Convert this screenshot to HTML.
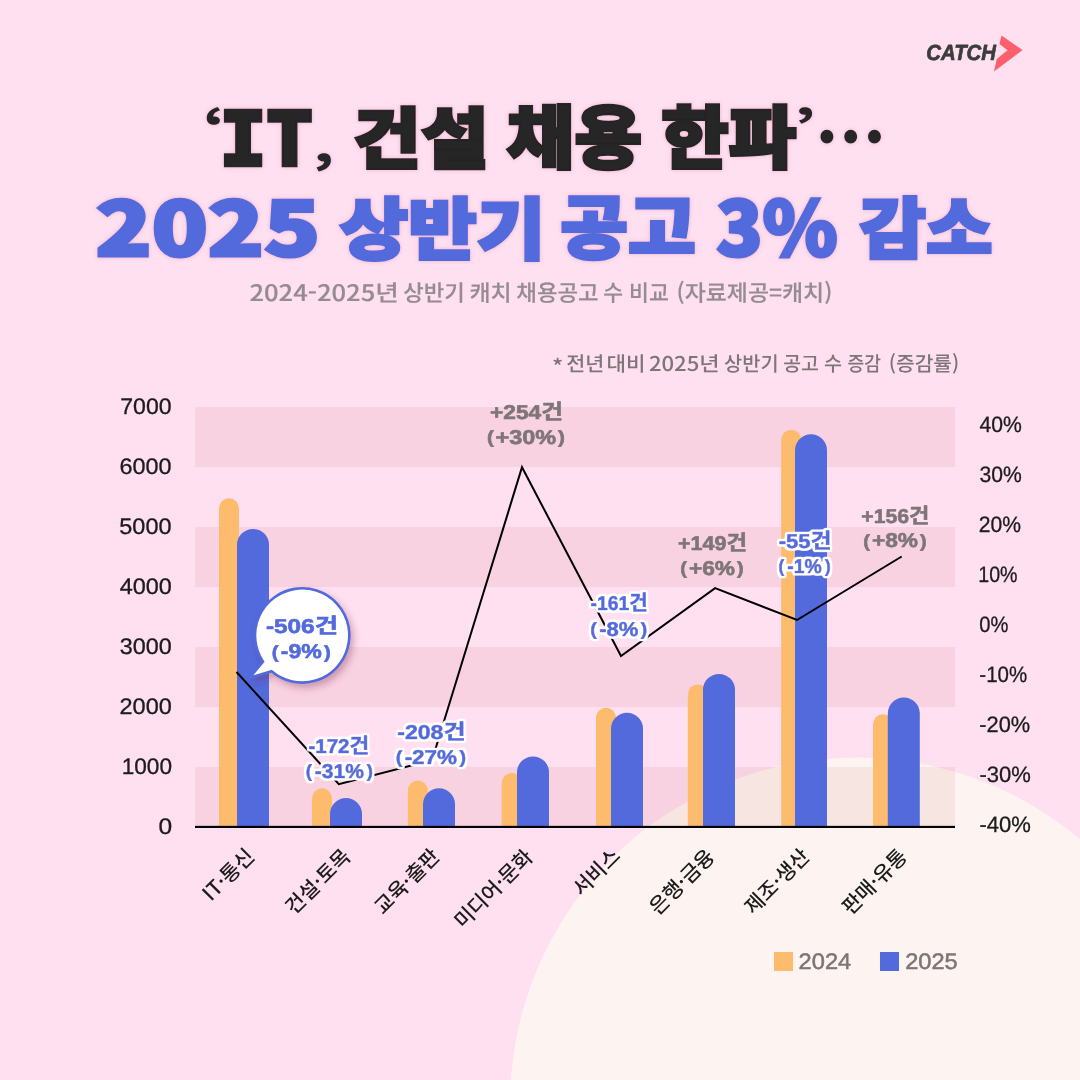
<!DOCTYPE html>
<html lang="ko">
<head>
<meta charset="utf-8">
<title>2025 상반기 공고 3% 감소</title>
<style>
  html, body { margin: 0; padding: 0; }
  body { width: 1080px; height: 1080px; overflow: hidden; background: #ffe0f0; }
  svg { display: block; position: absolute; left: 0; top: 0; }
  text { white-space: pre; text-rendering: geometricPrecision; }
</style>
</head>
<body>
<svg width="1080" height="1080" viewBox="0 0 1080 1080">
  <defs>
    <filter id="bshadow" x="-30%" y="-30%" width="170%" height="170%">
      <feDropShadow dx="3" dy="4" stdDeviation="3.5" flood-color="#7a2848" flood-opacity="0.35"/>
    </filter>
    <filter id="wout" x="-15%" y="-30%" width="130%" height="160%">
      <feMorphology in="SourceAlpha" operator="dilate" radius="2.1" result="d"/>
      <feGaussianBlur in="d" stdDeviation="0.9" result="b"/>
      <feComponentTransfer in="b" result="t"><feFuncA type="linear" slope="3" intercept="-0.7"/></feComponentTransfer>
      <feFlood flood-color="#ffffff" result="w"/>
      <feComposite in="w" in2="t" operator="in" result="o"/>
      <feMerge><feMergeNode in="o"/><feMergeNode in="SourceGraphic"/></feMerge>
    </filter>
    <filter id="tshadow" x="-5%" y="-20%" width="110%" height="140%">
      <feDropShadow dx="0" dy="0" stdDeviation="2.2" flood-color="#cf6f9d" flood-opacity="0.42"/>
    </filter>
  </defs>

  <!-- background -->
  <rect width="1080" height="1080" fill="#ffe0f0"/>
  <circle cx="856.3" cy="1103.7" r="346.2" fill="#fdf4f1"/>

  <!-- logo -->
  <g>
    <text transform="translate(926.23 59.58) scale(0.9316 1)" font-family='"Liberation Sans", "Noto Sans CJK KR", sans-serif' font-weight="700" font-size="21.86" font-style="italic" fill="#3c3c3c" stroke="#3c3c3c" stroke-width="0.7" stroke-linejoin="round" text-anchor="start">CATCH</text>
    <polygon points="1001.5,35.5 1022.5,50 994,71.5 996.8,59 1007.5,50.3 999.5,44" fill="#ff5f6d"/>
  </g>

  <!-- title -->
  <g filter="url(#tshadow)">
    <text font-family='"Noto Sans CJK KR", sans-serif' font-weight="900" fill="#252525" paint-order="stroke" stroke-linejoin="miter"><tspan x="202.75" y="144.92" font-size="43.59" textLength="22.68" lengthAdjust="spacingAndGlyphs">‘</tspan><tspan x="219.67" y="165.22" font-size="73.97" textLength="93.36" lengthAdjust="spacingAndGlyphs" font-family='"DejaVu Sans Mono", "Liberation Mono", monospace' font-weight="700" stroke="#252525" stroke-width="4.5">IT</tspan><tspan x="313.45" y="161.03" font-size="42.01" textLength="20.39" lengthAdjust="spacingAndGlyphs">,</tspan> <tspan x="353.12" y="162.67" font-size="66.77" textLength="135.64" lengthAdjust="spacingAndGlyphs" stroke="#252525" stroke-width="3">건설</tspan> <tspan x="506.87" y="162.70" font-size="69.29" textLength="135.11" lengthAdjust="spacingAndGlyphs" stroke="#252525" stroke-width="3">채용</tspan> <tspan x="661.38" y="162.70" font-size="69.01" textLength="134.99" lengthAdjust="spacingAndGlyphs" stroke="#252525" stroke-width="3">한파</tspan><tspan x="793.72" y="143.30" font-size="40.19" textLength="22.35" lengthAdjust="spacingAndGlyphs">’</tspan><tspan x="815.07" y="165.60" font-size="77.37" textLength="71.42" lengthAdjust="spacingAndGlyphs">…</tspan></text>
  </g>
  <g filter="url(#tshadow)">
    <text font-family='"Noto Sans CJK KR", sans-serif' font-weight="900" fill="#526adc" paint-order="stroke" stroke-linejoin="miter"><tspan x="95.55" y="255.88" font-size="74.80" textLength="224.64" lengthAdjust="spacingAndGlyphs" stroke="#526adc" stroke-width="3">2025</tspan> <tspan x="339.87" y="253.55" font-size="67.99" textLength="205.33" lengthAdjust="spacingAndGlyphs" stroke="#526adc" stroke-width="3">상반기</tspan> <tspan x="560.22" y="252.85" font-size="69.82" textLength="135.55" lengthAdjust="spacingAndGlyphs" stroke="#526adc" stroke-width="3">공고</tspan> <tspan x="716.18" y="256.38" font-size="75.49" textLength="121.45" lengthAdjust="spacingAndGlyphs" stroke="#526adc" stroke-width="3">3%</tspan> <tspan x="859.58" y="253.27" font-size="66.84" textLength="132.88" lengthAdjust="spacingAndGlyphs" stroke="#526adc" stroke-width="3">감소</tspan></text>
  </g>
  <g>
    <text font-family='"Noto Sans CJK KR", sans-serif' font-weight="500" fill="#958b91"><tspan x="249.47" y="301.00" font-size="22.60" textLength="149.29" lengthAdjust="spacingAndGlyphs" stroke="#958b91" stroke-width="0.15">2024-2025년</tspan> <tspan x="403.37" y="301.00" font-size="22.60" textLength="61.44" lengthAdjust="spacingAndGlyphs" stroke="#958b91" stroke-width="0.15">상반기</tspan> <tspan x="469.42" y="301.00" font-size="22.60" textLength="42.13" lengthAdjust="spacingAndGlyphs" stroke="#958b91" stroke-width="0.15">캐치</tspan> <tspan x="516.30" y="301.00" font-size="22.60" textLength="82.41" lengthAdjust="spacingAndGlyphs" stroke="#958b91" stroke-width="0.15">채용공고</tspan> <tspan x="603.37" y="301.00" font-size="22.60" textLength="19.83" lengthAdjust="spacingAndGlyphs" stroke="#958b91" stroke-width="0.15">수</tspan> <tspan x="629.00" y="301.00" font-size="22.60" textLength="39.79" lengthAdjust="spacingAndGlyphs" stroke="#958b91" stroke-width="0.15">비교</tspan> <tspan x="676.52" y="301.00" font-size="22.60" textLength="155.78" lengthAdjust="spacingAndGlyphs" stroke="#958b91" stroke-width="0.15">(자료제공=캐치)</tspan></text>
  </g>
  <g>
    <text font-family='"Noto Sans CJK KR", sans-serif' font-weight="500" fill="#7d7577"><tspan x="551.97" y="374.40" font-size="20.30" textLength="11.26" lengthAdjust="spacingAndGlyphs">*</tspan> <tspan x="566.33" y="371.20" font-size="20.30" textLength="38.05" lengthAdjust="spacingAndGlyphs">전년</tspan> <tspan x="606.42" y="371.20" font-size="20.30" textLength="39.01" lengthAdjust="spacingAndGlyphs">대비</tspan> <tspan x="648.92" y="371.20" font-size="20.30" textLength="70.66" lengthAdjust="spacingAndGlyphs">2025년</tspan> <tspan x="724.12" y="371.20" font-size="20.30" textLength="54.53" lengthAdjust="spacingAndGlyphs">상반기</tspan> <tspan x="783.22" y="371.20" font-size="20.30" textLength="35.60" lengthAdjust="spacingAndGlyphs">공고</tspan> <tspan x="824.08" y="371.20" font-size="20.30" textLength="18.04" lengthAdjust="spacingAndGlyphs">수</tspan> <tspan x="847.47" y="371.20" font-size="20.30" textLength="33.49" lengthAdjust="spacingAndGlyphs">증감</tspan> <tspan x="888.83" y="371.20" font-size="20.30" textLength="70.42" lengthAdjust="spacingAndGlyphs">(증감률)</tspan></text>
  </g>

  <!-- bands -->
  <g fill="#f8f0ef" style="mix-blend-mode:multiply">
    <rect x="195" y="407" width="760" height="60"/>
    <rect x="195" y="527" width="760" height="60"/>
    <rect x="195" y="647" width="760" height="60"/>
    <rect x="195" y="767" width="760" height="60"/>
  </g>

  <!-- left axis -->
  <g>
    <text transform="translate(120.30 413.78) scale(1.0241 1)" font-family='"Liberation Sans", "Noto Sans CJK KR", sans-serif' font-weight="400" font-size="22.52" fill="#1c1c1c" stroke="#1c1c1c" stroke-width="0.3" stroke-linejoin="round" text-anchor="start">7000</text>
    <text transform="translate(119.60 473.78) scale(1.0386 1)" font-family='"Liberation Sans", "Noto Sans CJK KR", sans-serif' font-weight="400" font-size="22.52" fill="#1c1c1c" stroke="#1c1c1c" stroke-width="0.3" stroke-linejoin="round" text-anchor="start">6000</text>
    <text transform="translate(119.30 533.78) scale(1.0418 1)" font-family='"Liberation Sans", "Noto Sans CJK KR", sans-serif' font-weight="400" font-size="22.52" fill="#1c1c1c" stroke="#1c1c1c" stroke-width="0.3" stroke-linejoin="round" text-anchor="start">5000</text>
    <text transform="translate(119.67 593.78) scale(1.0408 1)" font-family='"Liberation Sans", "Noto Sans CJK KR", sans-serif' font-weight="400" font-size="22.52" fill="#1c1c1c" stroke="#1c1c1c" stroke-width="0.3" stroke-linejoin="round" text-anchor="start">4000</text>
    <text transform="translate(119.83 653.78) scale(1.0377 1)" font-family='"Liberation Sans", "Noto Sans CJK KR", sans-serif' font-weight="400" font-size="22.52" fill="#1c1c1c" stroke="#1c1c1c" stroke-width="0.3" stroke-linejoin="round" text-anchor="start">3000</text>
    <text transform="translate(119.50 713.78) scale(1.0448 1)" font-family='"Liberation Sans", "Noto Sans CJK KR", sans-serif' font-weight="400" font-size="22.52" fill="#1c1c1c" stroke="#1c1c1c" stroke-width="0.3" stroke-linejoin="round" text-anchor="start">2000</text>
    <text transform="translate(121.63 773.78) scale(1.0049 1)" font-family='"Liberation Sans", "Noto Sans CJK KR", sans-serif' font-weight="400" font-size="22.52" fill="#1c1c1c" stroke="#1c1c1c" stroke-width="0.3" stroke-linejoin="round" text-anchor="start">1000</text>
    <text transform="translate(158.53 833.78) scale(1.0909 1)" font-family='"Liberation Sans", "Noto Sans CJK KR", sans-serif' font-weight="400" font-size="22.52" fill="#1c1c1c" stroke="#1c1c1c" stroke-width="0.3" stroke-linejoin="round" text-anchor="start">0</text>
  </g>
  <!-- right axis -->
  <g>
    <text transform="translate(979.47 431.79) scale(0.9492 1)" font-family='"Liberation Sans", "Noto Sans CJK KR", sans-serif' font-weight="400" font-size="22.31" fill="#1c1c1c" stroke="#1c1c1c" stroke-width="0.3" stroke-linejoin="round" text-anchor="start">40%</text>
    <text transform="translate(979.53 481.79) scale(0.9473 1)" font-family='"Liberation Sans", "Noto Sans CJK KR", sans-serif' font-weight="400" font-size="22.31" fill="#1c1c1c" stroke="#1c1c1c" stroke-width="0.3" stroke-linejoin="round" text-anchor="start">30%</text>
    <text transform="translate(978.70 531.79) scale(0.9465 1)" font-family='"Liberation Sans", "Noto Sans CJK KR", sans-serif' font-weight="400" font-size="22.31" fill="#1c1c1c" stroke="#1c1c1c" stroke-width="0.3" stroke-linejoin="round" text-anchor="start">20%</text>
    <text transform="translate(978.27 581.79) scale(0.8811 1)" font-family='"Liberation Sans", "Noto Sans CJK KR", sans-serif' font-weight="400" font-size="22.31" fill="#1c1c1c" stroke="#1c1c1c" stroke-width="0.3" stroke-linejoin="round" text-anchor="start">10%</text>
    <text transform="translate(979.23 631.79) scale(0.9032 1)" font-family='"Liberation Sans", "Noto Sans CJK KR", sans-serif' font-weight="400" font-size="22.31" fill="#1c1c1c" stroke="#1c1c1c" stroke-width="0.3" stroke-linejoin="round" text-anchor="start">0%</text>
    <text transform="translate(979.33 681.79) scale(0.9189 1)" font-family='"Liberation Sans", "Noto Sans CJK KR", sans-serif' font-weight="400" font-size="22.31" fill="#1c1c1c" stroke="#1c1c1c" stroke-width="0.3" stroke-linejoin="round" text-anchor="start">-10%</text>
    <text transform="translate(979.33 731.79) scale(0.9775 1)" font-family='"Liberation Sans", "Noto Sans CJK KR", sans-serif' font-weight="400" font-size="22.31" fill="#1c1c1c" stroke="#1c1c1c" stroke-width="0.3" stroke-linejoin="round" text-anchor="start">-20%</text>
    <text transform="translate(979.53 781.79) scale(0.9874 1)" font-family='"Liberation Sans", "Noto Sans CJK KR", sans-serif' font-weight="400" font-size="22.31" fill="#1c1c1c" stroke="#1c1c1c" stroke-width="0.3" stroke-linejoin="round" text-anchor="start">-30%</text>
    <text transform="translate(979.53 831.79) scale(0.9874 1)" font-family='"Liberation Sans", "Noto Sans CJK KR", sans-serif' font-weight="400" font-size="22.31" fill="#1c1c1c" stroke="#1c1c1c" stroke-width="0.3" stroke-linejoin="round" text-anchor="start">-40%</text>
  </g>

  <!-- bars 2024 -->
  <g fill="#fdbb6e">
    <path d="M219 827V508.3a10 10 0 0 1 20 0V827Z"/>
    <path d="M312 827V798.3a10 10 0 0 1 20 0V827Z"/>
    <path d="M407.8 827V790.5a10 10 0 0 1 20 0V827Z"/>
    <path d="M501.7 827V783a10 10 0 0 1 20 0V827Z"/>
    <path d="M596 827V717.8a10 10 0 0 1 20 0V827Z"/>
    <path d="M687.8 827V694.4a10 10 0 0 1 20 0V827Z"/>
    <path d="M781.2 827V439.7a10 10 0 0 1 20 0V827Z"/>
    <path d="M873 827V724.2a10 10 0 0 1 20 0V827Z"/>
  </g>
  <!-- bars 2025 -->
  <g fill="#526adc">
    <path d="M237 827V544.9a16 16 0 0 1 32 0V827Z"/>
    <path d="M330 827V814a16 16 0 0 1 32 0V827Z"/>
    <path d="M423 827V804.3a16 16 0 0 1 32 0V827Z"/>
    <path d="M517 827V772.4a16 16 0 0 1 32 0V827Z"/>
    <path d="M611 827V728.8a16 16 0 0 1 32 0V827Z"/>
    <path d="M703 827V689.9a16 16 0 0 1 32 0V827Z"/>
    <path d="M795 827V450.2a16 16 0 0 1 32 0V827Z"/>
    <path d="M887.8 827V713.5a16 16 0 0 1 32 0V827Z"/>
  </g>

  <!-- x axis line -->
  <rect x="195" y="825.85" width="760" height="2.15" fill="#000000"/>

  <!-- change-rate line -->
  <polyline points="236.5,672 338.8,784.2 432,760.2 522,467.2 621,656 715.1,588.1 797,620 901.7,556.5" fill="none" stroke="#000000" stroke-width="2" stroke-linejoin="miter"/>

  <!-- speech bubble -->
  <g filter="url(#bshadow)">
    <path d="M249.7 677.7 L263 661.65 A47.15 47.15 0 1 1 271.56 671.27 Z" fill="#ffffff" stroke="#526adc" stroke-width="2.6" stroke-linejoin="miter" stroke-miterlimit="10"/>
  </g>
  <g>
    <text transform="translate(265.89 632.50) scale(1.2183 1)" font-family='"Liberation Sans", "Noto Sans CJK KR", sans-serif' font-weight="700" font-size="20.00" fill="#526adc" stroke="#526adc" stroke-width="0.6" stroke-linejoin="round" text-anchor="start">-506<tspan font-family='"Noto Sans CJK KR", sans-serif' font-size="20.8">건</tspan></text>
    <text transform="translate(271.77 658.20) scale(1.1543 1)" font-family='"Liberation Sans", "Noto Sans CJK KR", sans-serif' font-weight="700" font-size="20.00" fill="#526adc" stroke="#526adc" stroke-width="0.6" stroke-linejoin="round" text-anchor="start"><tspan font-size="17.6" dy="-0.7">(</tspan><tspan dx="1.92" dy="0.7">-9%</tspan><tspan font-size="17.6" dx="1.92" dy="-0.7">)</tspan></text>
  </g>

  <!-- data labels -->
  <g filter="url(#wout)">
    <text transform="translate(308.42 752.80) scale(1.0273 1)" font-family='"Liberation Sans", "Noto Sans CJK KR", sans-serif' font-weight="700" font-size="20.00" fill="#526adc" stroke="#526adc" stroke-width="0.6" stroke-linejoin="round" text-anchor="start">-172<tspan font-family='"Noto Sans CJK KR", sans-serif' font-size="20.8">건</tspan></text>
    <text transform="translate(305.77 777.80) scale(1.0522 1)" font-family='"Liberation Sans", "Noto Sans CJK KR", sans-serif' font-weight="700" font-size="20.00" fill="#526adc" stroke="#526adc" stroke-width="0.6" stroke-linejoin="round" text-anchor="start"><tspan font-size="17.6" dy="-0.7">(</tspan><tspan dx="2.65" dy="0.7">-31%</tspan><tspan font-size="17.6" dx="2.65" dy="-0.7">)</tspan></text>
    <text transform="translate(397.18 738.90) scale(1.1564 1)" font-family='"Liberation Sans", "Noto Sans CJK KR", sans-serif' font-weight="700" font-size="20.00" fill="#526adc" stroke="#526adc" stroke-width="0.6" stroke-linejoin="round" text-anchor="start">-208<tspan font-family='"Noto Sans CJK KR", sans-serif' font-size="20.8">건</tspan></text>
    <text transform="translate(395.75 763.90) scale(1.1239 1)" font-family='"Liberation Sans", "Noto Sans CJK KR", sans-serif' font-weight="700" font-size="20.00" fill="#526adc" stroke="#526adc" stroke-width="0.6" stroke-linejoin="round" text-anchor="start"><tspan font-size="17.6" dy="-0.7">(</tspan><tspan dx="2.05" dy="0.7">-27%</tspan><tspan font-size="17.6" dx="2.05" dy="-0.7">)</tspan></text>
    <text transform="translate(590.52 610.20) scale(0.9645 1)" font-family='"Liberation Sans", "Noto Sans CJK KR", sans-serif' font-weight="700" font-size="20.00" fill="#526adc" stroke="#526adc" stroke-width="0.6" stroke-linejoin="round" text-anchor="start">-161<tspan font-family='"Noto Sans CJK KR", sans-serif' font-size="20.8">건</tspan></text>
    <text transform="translate(590.20 635.60) scale(1.1029 1)" font-family='"Liberation Sans", "Noto Sans CJK KR", sans-serif' font-weight="700" font-size="20.00" fill="#526adc" stroke="#526adc" stroke-width="0.6" stroke-linejoin="round" text-anchor="start"><tspan font-size="17.6" dy="-0.7">(</tspan><tspan dx="2.24" dy="0.7">-8%</tspan><tspan font-size="17.6" dx="2.24" dy="-0.7">)</tspan></text>
    <text transform="translate(778.65 547.80) scale(1.0986 1)" font-family='"Liberation Sans", "Noto Sans CJK KR", sans-serif' font-weight="700" font-size="20.00" fill="#526adc" stroke="#526adc" stroke-width="0.6" stroke-linejoin="round" text-anchor="start">-55<tspan font-family='"Noto Sans CJK KR", sans-serif' font-size="20.8">건</tspan></text>
    <text transform="translate(778.42 572.80) scale(0.9686 1)" font-family='"Liberation Sans", "Noto Sans CJK KR", sans-serif' font-weight="700" font-size="20.00" fill="#526adc" stroke="#526adc" stroke-width="0.6" stroke-linejoin="round" text-anchor="start"><tspan font-size="17.6" dy="-0.7">(</tspan><tspan dx="3.39" dy="0.7">-1%</tspan><tspan font-size="17.6" dx="3.39" dy="-0.7">)</tspan></text>
  </g>
  <g>
    <text transform="translate(490.00 418.70) scale(1.1355 1)" font-family='"Liberation Sans", "Noto Sans CJK KR", sans-serif' font-weight="700" font-size="20.00" fill="#7d7577" stroke="#7d7577" stroke-width="0.6" stroke-linejoin="round" text-anchor="start">+254<tspan font-family='"Noto Sans CJK KR", sans-serif' font-size="20.8">건</tspan></text>
    <text transform="translate(487.00 443.90) scale(1.1724 1)" font-family='"Liberation Sans", "Noto Sans CJK KR", sans-serif' font-weight="700" font-size="20.00" fill="#7d7577" stroke="#7d7577" stroke-width="0.6" stroke-linejoin="round" text-anchor="start"><tspan font-size="17.6" dy="-0.7">(</tspan><tspan dx="1.48" dy="0.7">+30%</tspan><tspan font-size="17.6" dx="1.48" dy="-0.7">)</tspan></text>
    <text transform="translate(678.03 550.00) scale(1.0742 1)" font-family='"Liberation Sans", "Noto Sans CJK KR", sans-serif' font-weight="700" font-size="20.00" fill="#7d7577" stroke="#7d7577" stroke-width="0.6" stroke-linejoin="round" text-anchor="start">+149<tspan font-family='"Noto Sans CJK KR", sans-serif' font-size="20.8">건</tspan></text>
    <text transform="translate(680.23 575.00) scale(1.1345 1)" font-family='"Liberation Sans", "Noto Sans CJK KR", sans-serif' font-weight="700" font-size="20.00" fill="#7d7577" stroke="#7d7577" stroke-width="0.6" stroke-linejoin="round" text-anchor="start"><tspan font-size="17.6" dy="-0.7">(</tspan><tspan dx="1.85" dy="0.7">+6%</tspan><tspan font-size="17.6" dx="1.85" dy="-0.7">)</tspan></text>
    <text transform="translate(861.23 522.80) scale(1.0613 1)" font-family='"Liberation Sans", "Noto Sans CJK KR", sans-serif' font-weight="700" font-size="20.00" fill="#7d7577" stroke="#7d7577" stroke-width="0.6" stroke-linejoin="round" text-anchor="start">+156<tspan font-family='"Noto Sans CJK KR", sans-serif' font-size="20.8">건</tspan></text>
    <text transform="translate(863.23 547.40) scale(1.1345 1)" font-family='"Liberation Sans", "Noto Sans CJK KR", sans-serif' font-weight="700" font-size="20.00" fill="#7d7577" stroke="#7d7577" stroke-width="0.6" stroke-linejoin="round" text-anchor="start"><tspan font-size="17.6" dy="-0.7">(</tspan><tspan dx="1.85" dy="0.7">+8%</tspan><tspan font-size="17.6" dx="1.85" dy="-0.7">)</tspan></text>
  </g>

  <!-- x labels -->
  <g>
    <text transform="translate(211.12 902.10) rotate(-45)" font-family='"Noto Sans CJK KR", sans-serif' font-weight="500" font-size="20.54" fill="#1c1c1c" text-anchor="start">IT·통신</text>
    <text transform="translate(294.05 915.55) rotate(-45)" font-family='"Noto Sans CJK KR", sans-serif' font-weight="500" font-size="20.54" fill="#1c1c1c" text-anchor="start">건설·토목</text>
    <text transform="translate(383.10 915.42) rotate(-45)" font-family='"Noto Sans CJK KR", sans-serif' font-weight="500" font-size="20.54" fill="#1c1c1c" text-anchor="start">교육·출판</text>
    <text transform="translate(462.92 929.60) rotate(-45)" font-family='"Noto Sans CJK KR", sans-serif' font-weight="500" font-size="20.54" fill="#1c1c1c" text-anchor="start">미디어·문화</text>
    <text transform="translate(581.47 897.28) rotate(-45)" font-family='"Noto Sans CJK KR", sans-serif' font-weight="500" font-size="20.54" fill="#1c1c1c" text-anchor="start">서비스</text>
    <text transform="translate(658.08 915.88) rotate(-45)" font-family='"Noto Sans CJK KR", sans-serif' font-weight="500" font-size="20.54" fill="#1c1c1c" text-anchor="start">은행·금융</text>
    <text transform="translate(753.18 915.40) rotate(-45)" font-family='"Noto Sans CJK KR", sans-serif' font-weight="500" font-size="20.54" fill="#1c1c1c" text-anchor="start">제조·생산</text>
    <text transform="translate(850.63 915.73) rotate(-45)" font-family='"Noto Sans CJK KR", sans-serif' font-weight="500" font-size="20.54" fill="#1c1c1c" text-anchor="start">판매·유통</text>
  </g>

  <!-- legend -->
  <g>
    <rect x="774" y="952" width="19" height="19" fill="#fdbb6e"/>
    <text transform="translate(798.62 969.42) scale(1.0543 1)" font-family='"Liberation Sans", "Noto Sans CJK KR", sans-serif' font-weight="400" font-size="22.43" fill="#7d7577" stroke="#7d7577" stroke-width="0.5" stroke-linejoin="round" text-anchor="start">2024</text>
    <rect x="880" y="952" width="19" height="19" fill="#526adc"/>
    <text transform="translate(905.20 969.42) scale(1.0528 1)" font-family='"Liberation Sans", "Noto Sans CJK KR", sans-serif' font-weight="400" font-size="22.43" fill="#7d7577" stroke="#7d7577" stroke-width="0.5" stroke-linejoin="round" text-anchor="start">2025</text>
  </g>
</svg>
</body>
</html>
